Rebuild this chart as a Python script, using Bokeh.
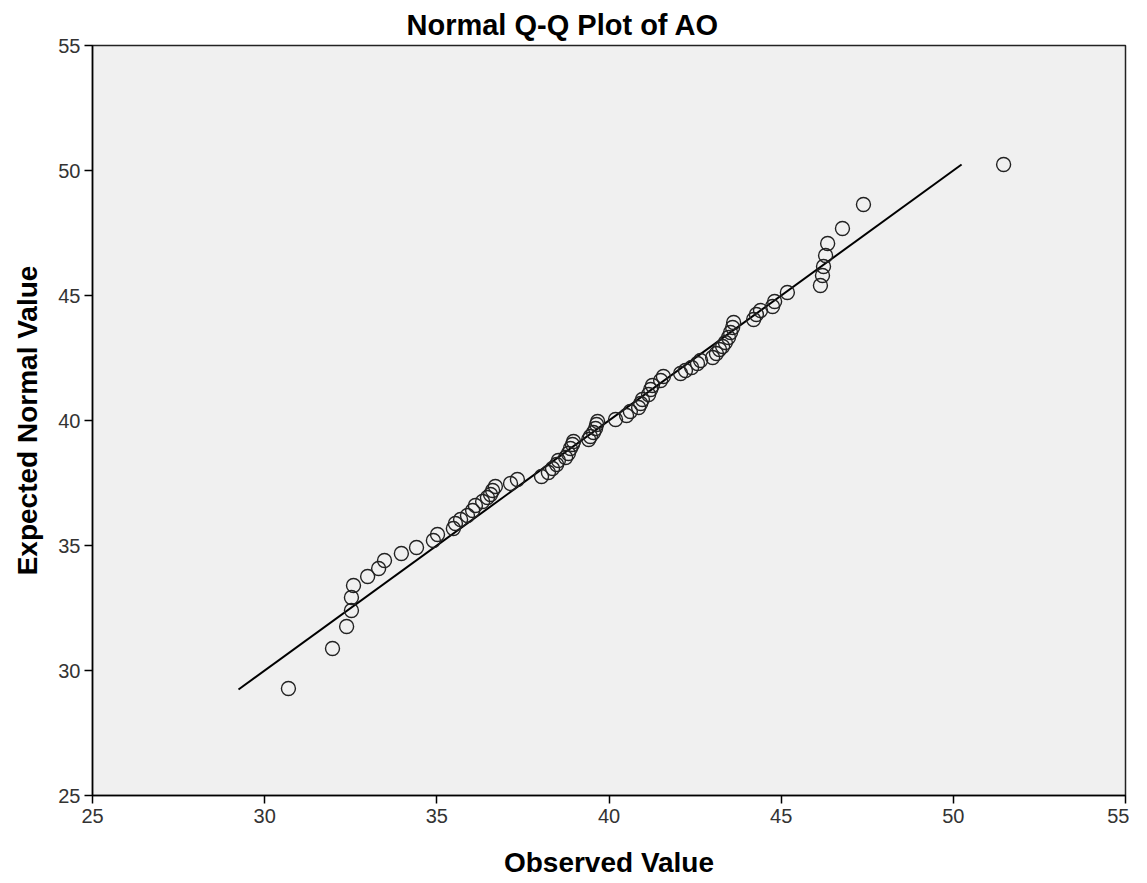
from bokeh.plotting import figure
from bokeh.models import Range1d, FixedTicker, Title, ColumnDataSource
from bokeh.embed import file_html
from bokeh.resources import INLINE

observed = [30.69, 31.97, 32.38, 32.52, 32.52, 32.58, 32.99, 33.31, 33.48, 33.97,
            34.41, 34.90, 35.02, 35.48, 35.54, 35.69, 35.89, 36.04, 36.12, 36.33,
            36.47, 36.56, 36.62, 36.70, 37.14, 37.34, 38.04, 38.24, 38.36, 38.48,
            38.53, 38.74, 38.82, 38.88, 38.94, 38.97, 39.41, 39.46, 39.55, 39.61,
            39.64, 39.67, 40.19, 40.51, 40.62, 40.86, 40.92, 40.97, 41.15, 41.21,
            41.26, 41.50, 41.58, 42.08, 42.22, 42.40, 42.57, 42.66, 43.01, 43.12,
            43.21, 43.30, 43.38, 43.47, 43.53, 43.59, 43.62, 44.20, 44.28, 44.40,
            44.75, 44.81, 45.18, 46.14, 46.20, 46.23, 46.29, 46.35, 46.78, 47.39,
            51.46]
expected = [29.28, 30.88, 31.76, 32.40, 32.92, 33.40, 33.76, 34.08, 34.40, 34.68,
            34.92, 35.20, 35.44, 35.68, 35.88, 36.04, 36.20, 36.40, 36.60, 36.76,
            36.92, 37.04, 37.20, 37.36, 37.48, 37.64, 37.76, 37.92, 38.08, 38.24,
            38.40, 38.52, 38.68, 38.88, 39.04, 39.16, 39.24, 39.36, 39.52, 39.68,
            39.84, 39.96, 40.04, 40.20, 40.36, 40.52, 40.68, 40.84, 41.04, 41.24,
            41.40, 41.60, 41.76, 41.88, 42.00, 42.12, 42.28, 42.40, 42.52, 42.68,
            42.84, 42.96, 43.12, 43.32, 43.52, 43.72, 43.92, 44.04, 44.24, 44.40,
            44.56, 44.76, 45.12, 45.40, 45.80, 46.16, 46.60, 47.08, 47.68, 48.64,
            50.24]
ref_line = [29.24, 50.24]
ticks = [25, 30, 35, 40, 45, 50, 55]

FONT = "Liberation Sans"

p = figure(frame_width=1033, frame_height=750,
           min_border_left=92, min_border_right=4, min_border_top=45, min_border_bottom=78,
           x_range=Range1d(25, 55), y_range=Range1d(25, 55),
           output_backend="svg", toolbar_location=None, title=None)

p.add_layout(Title(text="Normal Q-Q Plot of AO", text_font=FONT, text_font_size="29px",
                   text_font_style="bold", text_color="black", align="left", offset=314,
                   standoff=10), "above")

p.background_fill_color = "#F0F0F0"
p.border_fill_color = "white"
p.outline_line_color = "#222222"
p.outline_line_width = 1.5
p.grid.visible = False

for ax in (p.xaxis[0], p.yaxis[0]):
    ax.ticker = FixedTicker(ticks=ticks)
    ax.axis_line_color = "black"
    ax.axis_line_width = 1.5
    ax.major_tick_line_color = "black"
    ax.major_tick_line_width = 1.5
    ax.major_tick_out = 8
    ax.major_tick_in = 0
    ax.minor_tick_line_color = None
    ax.major_label_text_font = FONT
    ax.major_label_text_font_size = "20px"
    ax.major_label_text_color = "#333333"
    ax.axis_label_text_font = FONT
    ax.axis_label_text_font_size = "28px"
    ax.axis_label_text_font_style = "bold"
    ax.axis_label_text_color = "black"

p.xaxis.axis_label = "Observed Value"
p.yaxis.axis_label = "Expected Normal Value"
p.xaxis.major_label_standoff = 5
p.xaxis.axis_label_standoff = 21
p.yaxis.major_label_standoff = 4
p.yaxis.axis_label_standoff = 12
p.yaxis.major_label_orientation = "horizontal"

p.line(x=ref_line, y=ref_line, line_color="black", line_width=2)
src = ColumnDataSource(dict(x=observed, y=expected))
p.scatter("x", "y", source=src, marker="circle", size=14, fill_color=None,
          line_color="#222222", line_width=1.4)

open("out.html", "w").write(file_html(p, INLINE))
